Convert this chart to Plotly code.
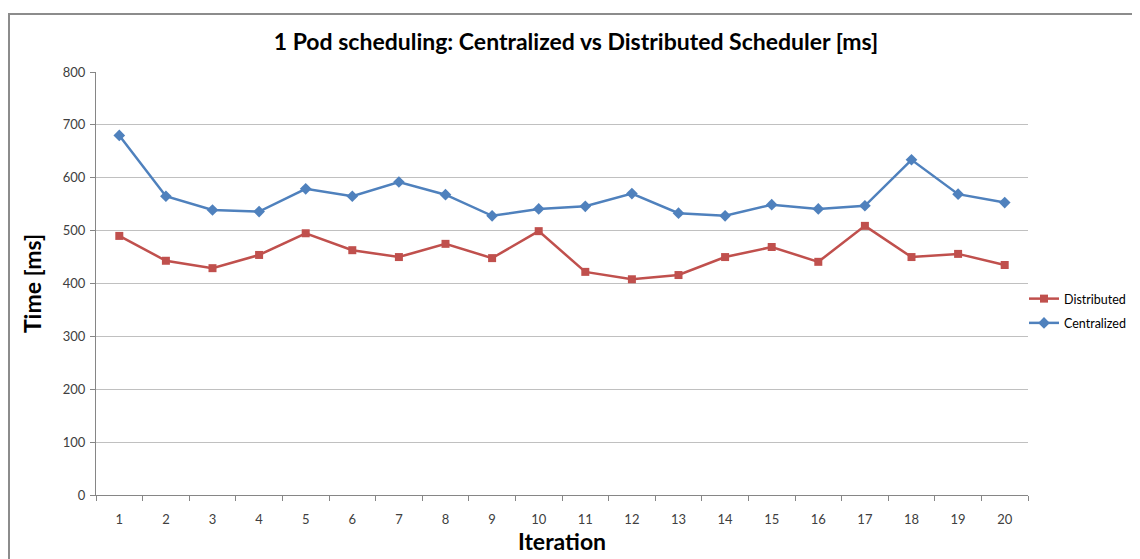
import plotly.graph_objects as go

iterations = list(range(1, 21))
distributed = [490, 443, 429, 454, 495, 463, 450, 475, 448, 499,
               422, 408, 416, 450, 469, 441, 509, 450, 456, 435]
centralized = [680, 565, 539, 536, 579, 565, 592, 568, 528, 541,
               546, 570, 533, 528, 549, 541, 547, 634, 569, 553]
y_ticks = [0, 100, 200, 300, 400, 500, 600, 700, 800]

OFF = 8  # page body margin
W, H = 1140, 559
L, T = 96 - OFF, 72 - OFF
R = W - (1028 - OFF)
B = H - (495 - OFF)
pw, ph = W - L - R, H - T - B

fig = go.Figure()
fig.add_trace(go.Scatter(
    x=iterations, y=distributed, name="Distributed", mode="lines+markers",
    legendgroup="d",
    line=dict(color="#C0504D", width=2.5),
    marker=dict(symbol="square", size=8, color="#C0504D")))
fig.add_trace(go.Scatter(
    x=iterations, y=centralized, name="Centralized", mode="lines+markers",
    legendgroup="c",
    line=dict(color="#4F81BD", width=2.5),
    marker=dict(symbol="diamond", size=9, color="#4F81BD")))

# outer chart frame
fig.add_shape(type="rect", xref="paper", yref="paper",
              x0=(9 - OFF - L) / pw, x1=(W + 20 - L) / pw,
              y0=-(B + 20) / ph, y1=1 + (T - (14 - OFF)) / ph,
              line=dict(color="#8c8c8c", width=2), layer="below")

fig.update_layout(
    width=W, height=H,
    margin=dict(l=L, r=R, t=T, b=B),
    paper_bgcolor="white", plot_bgcolor="white",
    font=dict(family="Lato, 'Open Sans', sans-serif", color="#404040"),
    title=dict(text="<b>1 Pod scheduling: Centralized vs Distributed Scheduler [ms]</b>",
               xref="paper", x=0.5 + (576 - 562) / pw, xanchor="center",
               y=1 - (42 - OFF) / H, yanchor="middle",
               font=dict(size=23, color="#000000")),
    showlegend=True,
    legend=dict(x=(1024 - 96) / pw, y=1 - (311 - 72) / ph, xanchor="left", yanchor="middle",
                font=dict(size=12.5, color="#000000"), bgcolor="rgba(0,0,0,0)",
                itemwidth=30, traceorder="grouped", tracegroupgap=5),
    xaxis=dict(
        range=[0.5, 20.5], tickmode="array", tickvals=iterations,
        ticktext=[str(i) for i in iterations], ticks="",
        showgrid=False, showline=True, linecolor="#868686", linewidth=1,
        zeroline=False, tickfont=dict(size=13, color="#404040"),
        ticklabelstandoff=12,
        minor=dict(tickmode="linear", tick0=0.5, dtick=1, ticks="outside",
                   ticklen=5, tickcolor="#868686", showgrid=False),
        title=dict(text="<b>Iteration</b>", font=dict(size=23, color="#000000"), standoff=8),
    ),
    yaxis=dict(
        range=[0, 800], tickmode="array", tickvals=y_ticks,
        ticks="outside", ticklen=5, tickcolor="#868686",
        showgrid=True, gridcolor="#c0c0c0", gridwidth=1,
        showline=True, linecolor="#868686", linewidth=1, zeroline=False,
        tickfont=dict(size=13, color="#404040"), ticklabelstandoff=2,
        title=dict(text="<b>Time [ms]</b>", font=dict(size=23, color="#000000"), standoff=14),
    ),
)

fig.write_html("out.html")
